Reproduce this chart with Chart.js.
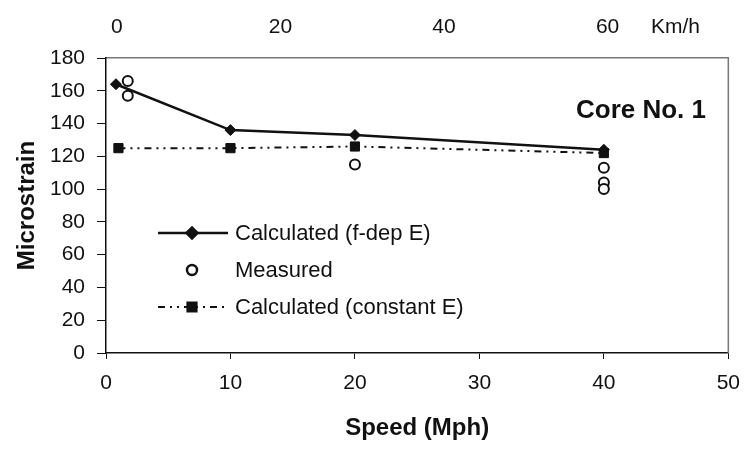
<!DOCTYPE html>
<html>
<head>
<meta charset="utf-8">
<script src="https://cdn.jsdelivr.net/npm/chart.js@4/dist/chart.umd.min.js"></script>
<style>
  html, body { margin: 0; padding: 0; background: #fff; }
  #wrap { width: 752px; height: 451px; }
</style>
</head>
<body>
<div id="wrap"><canvas id="strainChart" width="752" height="451"></canvas></div>
<script>
// speed in mph, strain in microstrain
const fdepSpeed = [0.8, 10, 20, 40];
const fdepStrain = [164, 136, 133, 124];
const measSpeed = [1.75, 1.75, 20, 40, 40, 40];
const measStrain = [166, 157, 115, 113, 104, 100];
const constSpeed = [1, 10, 20, 40];
const constStrain = [125, 125, 126, 122];

// top axis ticks (km/h)
const kmhTicks = [0, 20, 40, 60];
const kmhUnit = 'Km/h';
const kmhUnitAt = 68.3;

const FONT = '"Liberation Sans", Arial, sans-serif';

function pts(xs, ys) {
    return xs.map(function (x, i) { return { x: x, y: ys[i] }; });
}

// legend drawn inside the plot area
const insideLegend = {
    id: 'insideLegend',
    afterDatasetsDraw(chart) {
        const ctx = chart.ctx;
        const a = chart.chartArea;
        const x0 = a.left + 52, x1 = a.left + 122, mx = a.left + 86, tx = a.left + 129;
        const rows = [a.top + 175, a.top + 212, a.top + 249];
        ctx.save();
        chart.data.datasets.forEach(function (ds, i) {
            const y = rows[i];
            if (ds.showLine !== false) {
                ctx.beginPath();
                ctx.strokeStyle = ds.borderColor;
                ctx.lineWidth = ds.borderWidth;
                ctx.setLineDash(ds.borderDash || []);
                ctx.moveTo(x0, y);
                ctx.lineTo(x1, y);
                ctx.stroke();
                ctx.setLineDash([]);
            }
            ctx.fillStyle = ds.pointBackgroundColor;
            ctx.strokeStyle = ds.pointBorderColor;
            Chart.helpers.drawPoint(ctx, {
                pointStyle: ds.pointStyle,
                radius: ds.pointRadius,
                rotation: 0,
                borderWidth: ds.pointBorderWidth
            }, mx, y);
            ctx.fillStyle = '#111';
            ctx.font = '22px ' + FONT;
            ctx.textAlign = 'left';
            ctx.textBaseline = 'middle';
            ctx.fillText(ds.label, tx, y + 1);
        });
        // caption
        ctx.font = 'bold 26px ' + FONT;
        ctx.textAlign = 'center';
        ctx.fillText('Core No. 1', a.left + 535, a.top + 53);
        // right frame edge
        ctx.beginPath();
        ctx.strokeStyle = '#777';
        ctx.lineWidth = 1.5;
        ctx.moveTo(a.right, a.top);
        ctx.lineTo(a.right, a.bottom);
        ctx.stroke();
        ctx.restore();
    }
};

const ctx = document.getElementById('strainChart').getContext('2d');
const strainChart = new Chart(ctx, {
    type: 'scatter',
    data: {
        datasets: [{
            label: 'Calculated (f-dep E)',
            data: pts(fdepSpeed, fdepStrain),
            showLine: true,
            borderColor: '#111',
            borderWidth: 2.5,
            pointStyle: 'rectRot',
            pointRadius: 5.5,
            pointBackgroundColor: '#111',
            pointBorderColor: '#111',
            pointBorderWidth: 1
        }, {
            label: 'Measured',
            data: pts(measSpeed, measStrain),
            showLine: false,
            pointStyle: 'circle',
            pointRadius: 5,
            pointBackgroundColor: '#fff',
            pointBorderColor: '#111',
            pointBorderWidth: 2
        }, {
            label: 'Calculated (constant E)',
            data: pts(constSpeed, constStrain),
            showLine: true,
            borderColor: '#111',
            borderWidth: 2,
            borderDash: [7, 5, 2, 5, 2, 5],
            pointStyle: 'rect',
            pointRadius: 6.5,
            pointBackgroundColor: '#111',
            pointBorderColor: '#111',
            pointBorderWidth: 1
        }]
    },
    options: {
        responsive: false,
        animation: false,
        devicePixelRatio: 1,
        layout: { padding: { left: 0, right: 17, top: 0, bottom: 0 } },
        plugins: {
            legend: { display: false },
            tooltip: { enabled: false }
        },
        scales: {
            x: {
                type: 'linear',
                position: 'bottom',
                min: 0,
                max: 50,
                ticks: {
                    stepSize: 10,
                    color: '#111',
                    font: { family: FONT, size: 21 },
                    padding: 12,
                    maxRotation: 0
                },
                grid: { display: true, drawOnChartArea: false, drawTicks: true, tickLength: 6, color: '#111', lineWidth: 1 },
                border: { display: true, color: '#111', width: 1.5 },
                title: {
                    display: true,
                    text: 'Speed (Mph)',
                    color: '#111',
                    font: { family: FONT, size: 24, weight: 'bold' },
                    padding: { top: 0, bottom: 8 }
                },
                afterFit(scale) { scale.height = 98; }
            },
            x2: {
                type: 'linear',
                position: 'top',
                min: -1.33,
                max: 74.76,
                afterBuildTicks(scale) {
                    scale.ticks = kmhTicks.map(function (v) { return { value: v }; })
                        .concat([{ value: kmhUnitAt }]);
                },
                ticks: {
                    color: '#111',
                    font: { family: FONT, size: 21 },
                    padding: 18,
                    maxRotation: 0,
                    callback: function (v) { return v === kmhUnitAt ? kmhUnit : v; }
                },
                grid: { display: false, drawTicks: false },
                border: { display: true, color: '#777', width: 1.5 },
                afterFit(scale) { scale.height = 58; }
            },
            y: {
                type: 'linear',
                min: 0,
                max: 180,
                ticks: {
                    stepSize: 20,
                    color: '#111',
                    font: { family: FONT, size: 21 },
                    padding: 12
                },
                grid: { display: true, drawOnChartArea: false, drawTicks: true, tickLength: 9, color: '#111', lineWidth: 1 },
                border: { display: true, color: '#111', width: 1.5 },
                title: {
                    display: true,
                    text: 'Microstrain',
                    color: '#111',
                    font: { family: FONT, size: 24, weight: 'bold' },
                    padding: { top: 13, bottom: 0 }
                },
                afterFit(scale) { scale.width = 106; }
            }
        }
    },
    plugins: [insideLegend]
});
</script>
</body>
</html>
